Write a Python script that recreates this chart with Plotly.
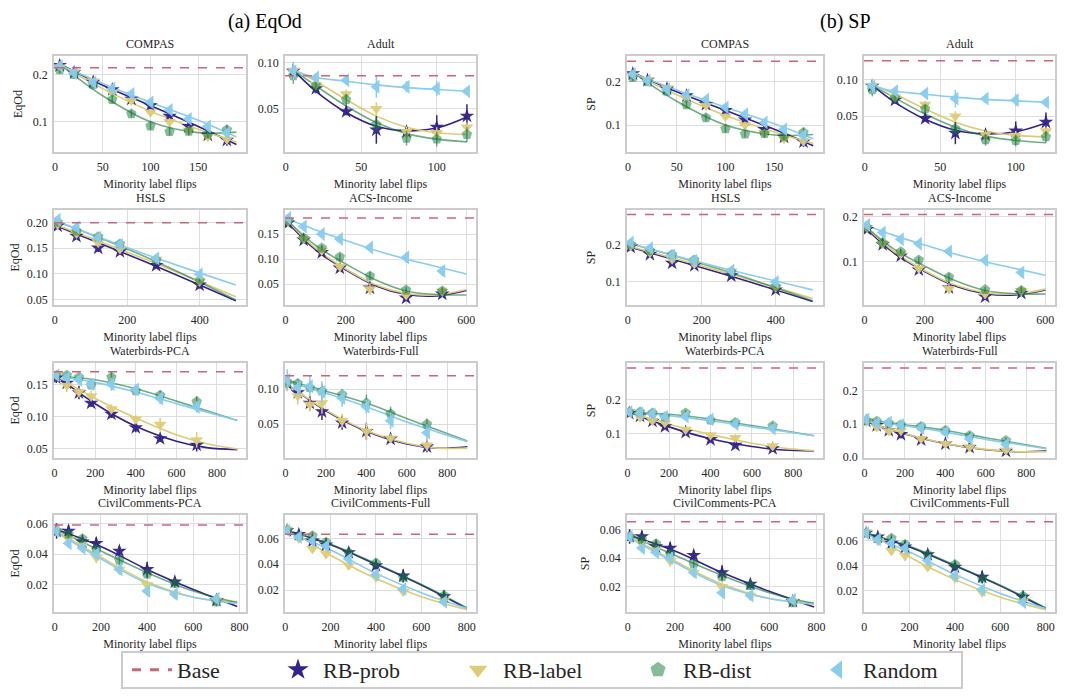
import plotly.graph_objects as go
from plotly.subplots import make_subplots

# ---------------- data ----------------
datasets = ["COMPAS", "Adult", "HSLS", "ACS-Income", "Waterbirds-PCA",
            "Waterbirds-Full", "CivilComments-PCA", "CivilComments-Full"]
methods = ["RB-prob", "RB-label", "RB-dist", "Random"]

# COMPAS
compas_x = [5, 20, 40, 60, 80, 100, 120, 140, 160, 180]
compas_prob = [0.219, 0.204, 0.184, 0.168, 0.148, 0.134, 0.112, 0.090, 0.072, 0.061]
compas_label = [0.215, 0.205, 0.186, 0.162, 0.145, 0.120, 0.100, 0.082, 0.068, 0.063]
compas_dist = [0.210, 0.200, 0.178, 0.147, 0.117, 0.091, 0.079, 0.080, 0.074, 0.083]
compas_rand = [0.218, 0.203, 0.183, 0.170, 0.159, 0.141, 0.125, 0.106, 0.090, 0.076]
compas_prob_err = [0.006, 0.005, 0.006, 0.006, 0.006, 0.007, 0.007, 0.008, 0.008, 0.012]
compas_label_err = [0.006, 0.005, 0.006, 0.006, 0.007, 0.007, 0.008, 0.009, 0.010, 0.010]
compas_dist_err = [0.008, 0.006, 0.007, 0.008, 0.008, 0.008, 0.008, 0.009, 0.009, 0.010]
compas_rand_err = [0.008, 0.006, 0.006, 0.007, 0.007, 0.007, 0.007, 0.008, 0.009, 0.009]
compas_fit_x = [5, 50, 100, 150, 190]
compas_fit_prob = [0.222, 0.177, 0.134, 0.090, 0.052]
compas_fit_label = [0.220, 0.170, 0.122, 0.084, 0.057]
compas_fit_dist = [0.222, 0.155, 0.100, 0.077, 0.078]
compas_fit_rand = [0.220, 0.181, 0.141, 0.103, 0.068]

# Adult
adult_x = [5, 20, 40, 60, 80, 100, 120]
adult_prob = [0.091, 0.072, 0.047, 0.027, 0.025, 0.030, 0.042]
adult_label = [0.092, 0.076, 0.066, 0.050, 0.025, 0.024, 0.030]
adult_dist = [0.086, 0.075, 0.060, 0.033, 0.018, 0.017, 0.022]
adult_rand = [0.091, 0.084, 0.081, 0.074, 0.074, 0.072, 0.069]
adult_prob_err = [0.008, 0.005, 0.004, 0.015, 0.006, 0.013, 0.013]
adult_label_err = [0.006, 0.005, 0.005, 0.007, 0.006, 0.006, 0.005]
adult_dist_err = [0.009, 0.006, 0.006, 0.008, 0.008, 0.008, 0.008]
adult_rand_err = [0.010, 0.005, 0.005, 0.012, 0.006, 0.008, 0.004]
adult_fit_x = [5, 20, 40, 60, 80, 100, 120]
adult_fit_prob = [0.092, 0.069, 0.046, 0.031, 0.026, 0.029, 0.041]
adult_fit_label = [0.093, 0.080, 0.060, 0.042, 0.030, 0.024, 0.022]
adult_fit_dist = [0.092, 0.075, 0.053, 0.035, 0.023, 0.017, 0.014]
adult_fit_rand = [0.092, 0.084, 0.080, 0.076, 0.073, 0.071, 0.069]

# HSLS
hsls_x = [8, 60, 120, 180, 280, 400]
hsls_prob = [0.193, 0.173, 0.150, 0.143, 0.116, 0.078]
hsls_label = [0.196, 0.178, 0.160, 0.148, 0.128, 0.085]
hsls_dist = [0.200, 0.183, 0.172, 0.158, 0.126, 0.087]
hsls_rand = [0.205, 0.190, 0.170, 0.156, 0.130, 0.099]
hsls_prob_err = [0.004, 0.006, 0.008, 0.006, 0.005, 0.007]
hsls_label_err = [0.004, 0.005, 0.006, 0.006, 0.005, 0.005]
hsls_dist_err = [0.004, 0.004, 0.004, 0.004, 0.006, 0.004]
hsls_rand_err = [0.005, 0.005, 0.005, 0.004, 0.004, 0.005]
hsls_fit_x = [5, 250, 500]
hsls_fit_prob = [0.193, 0.123, 0.047]
hsls_fit_label = [0.195, 0.128, 0.055]
hsls_fit_dist = [0.202, 0.133, 0.049]
hsls_fit_rand = [0.202, 0.138, 0.078]

# ACS-Income
acs_x = [8, 60, 120, 180, 280, 400, 520]
acs_prob = [0.172, 0.138, 0.113, 0.082, 0.042, 0.022, 0.030]
acs_label = [0.175, 0.140, 0.117, 0.085, 0.040, 0.028, 0.035]
acs_dist = [0.176, 0.142, 0.122, 0.104, 0.066, 0.038, 0.036]
acs_rand = [0.182, 0.165, 0.150, 0.140, 0.123, 0.103, 0.076]
acs_prob_err = [0.004, 0.006, 0.006, 0.006, 0.008, 0.006, 0.006]
acs_label_err = [0.005, 0.007, 0.007, 0.010, 0.012, 0.008, 0.008]
acs_dist_err = [0.004, 0.006, 0.005, 0.007, 0.008, 0.006, 0.006]
acs_rand_err = [0.004, 0.004, 0.004, 0.008, 0.006, 0.010, 0.010]
acs_fit_x = [8, 100, 200, 300, 400, 500, 600]
acs_fit_prob = [0.172, 0.118, 0.078, 0.046, 0.029, 0.026, 0.037]
acs_fit_label = [0.175, 0.121, 0.080, 0.048, 0.031, 0.028, 0.039]
acs_fit_dist = [0.176, 0.127, 0.090, 0.058, 0.036, 0.029, 0.028]
acs_fit_rand = [0.180, 0.158, 0.137, 0.117, 0.100, 0.085, 0.070]

# Waterbirds-PCA
wbp_x = [8, 60, 120, 180, 280, 400, 520, 700]
wbp_prob = [0.160, 0.152, 0.137, 0.121, 0.104, 0.083, 0.066, 0.056]
wbp_label = [0.165, 0.148, 0.138, 0.132, 0.112, 0.096, 0.088, 0.064]
wbp_dist = [0.163, 0.164, 0.161, 0.149, 0.161, 0.140, 0.133, 0.123]
wbp_rand = [0.164, 0.160, 0.157, 0.150, 0.150, 0.142, 0.128, 0.115]
wbp_prob_err = [0.008, 0.008, 0.010, 0.006, 0.006, 0.007, 0.005, 0.010]
wbp_label_err = [0.006, 0.010, 0.007, 0.008, 0.007, 0.006, 0.010, 0.012]
wbp_dist_err = [0.004, 0.004, 0.004, 0.006, 0.008, 0.006, 0.007, 0.009]
wbp_rand_err = [0.007, 0.005, 0.006, 0.007, 0.010, 0.008, 0.009, 0.009]
wbp_fit_x = [8, 200, 400, 600, 750, 900]
wbp_fit_prob = [0.163, 0.120, 0.085, 0.062, 0.052, 0.049]
wbp_fit_label = [0.163, 0.128, 0.098, 0.072, 0.058, 0.050]
wbp_fit_dist = [0.163, 0.157, 0.143, 0.124, 0.109, 0.094]
wbp_fit_rand = [0.163, 0.153, 0.138, 0.120, 0.107, 0.094]

# Waterbirds-Full
wbf_x = [8, 60, 120, 180, 280, 400, 520, 700]
wbf_prob = [0.108, 0.095, 0.080, 0.068, 0.052, 0.040, 0.029, 0.018]
wbf_label = [0.107, 0.090, 0.078, 0.080, 0.055, 0.040, 0.030, 0.020]
wbf_dist = [0.110, 0.108, 0.102, 0.097, 0.092, 0.080, 0.065, 0.050]
wbf_rand = [0.113, 0.102, 0.104, 0.096, 0.087, 0.075, 0.055, 0.038]
wbf_prob_err = [0.008, 0.008, 0.010, 0.012, 0.010, 0.012, 0.005, 0.008]
wbf_label_err = [0.010, 0.012, 0.010, 0.015, 0.010, 0.012, 0.006, 0.008]
wbf_dist_err = [0.010, 0.006, 0.008, 0.010, 0.008, 0.012, 0.010, 0.008]
wbf_rand_err = [0.015, 0.010, 0.015, 0.015, 0.012, 0.010, 0.012, 0.012]
wbf_fit_x = [8, 200, 400, 600, 750, 900]
wbf_fit_prob = [0.107, 0.069, 0.040, 0.022, 0.016, 0.018]
wbf_fit_label = [0.107, 0.070, 0.041, 0.023, 0.016, 0.016]
wbf_fit_dist = [0.112, 0.097, 0.080, 0.058, 0.042, 0.026]
wbf_fit_rand = [0.110, 0.094, 0.075, 0.053, 0.039, 0.025]

# CivilComments-PCA
ccp_x = [8, 60, 120, 180, 280, 400, 520, 700]
ccp_prob = [0.055, 0.055, 0.048, 0.047, 0.042, 0.030, 0.022, 0.010]
ccp_label = [0.055, 0.050, 0.046, 0.038, 0.030, 0.020, 0.014, 0.010]
ccp_dist = [0.055, 0.053, 0.050, 0.043, 0.036, 0.027, 0.021, 0.009]
ccp_rand = [0.055, 0.047, 0.044, 0.040, 0.030, 0.016, 0.014, 0.011]
ccp_prob_err = [0.005, 0.004, 0.003, 0.004, 0.003, 0.005, 0.003, 0.003]
ccp_label_err = [0.003, 0.003, 0.003, 0.004, 0.003, 0.003, 0.003, 0.003]
ccp_dist_err = [0.003, 0.003, 0.003, 0.003, 0.003, 0.003, 0.003, 0.003]
ccp_rand_err = [0.003, 0.003, 0.003, 0.003, 0.003, 0.003, 0.003, 0.003]
ccp_fit_x = [8, 200, 400, 600, 790]
ccp_fit_prob = [0.056, 0.045, 0.030, 0.017, 0.006]
ccp_fit_label = [0.055, 0.038, 0.022, 0.012, 0.009]
ccp_fit_dist = [0.056, 0.042, 0.028, 0.016, 0.0085]
ccp_fit_rand = [0.054, 0.037, 0.021, 0.012, 0.008]

# CivilComments-Full
ccf_x = [8, 60, 120, 180, 280, 400, 520, 700]
ccf_prob = [0.066, 0.063, 0.058, 0.055, 0.049, 0.039, 0.031, 0.015]
ccf_label = [0.067, 0.060, 0.052, 0.048, 0.039, 0.030, 0.019, 0.012]
ccf_dist = [0.066, 0.062, 0.062, 0.057, 0.049, 0.041, 0.030, 0.016]
ccf_rand = [0.066, 0.061, 0.058, 0.054, 0.044, 0.032, 0.021, 0.011]
ccf_prob_err = [0.003, 0.003, 0.003, 0.003, 0.004, 0.003, 0.005, 0.003]
ccf_label_err = [0.004, 0.003, 0.003, 0.004, 0.003, 0.003, 0.003, 0.003]
ccf_dist_err = [0.003, 0.003, 0.003, 0.003, 0.003, 0.003, 0.003, 0.004]
ccf_rand_err = [0.003, 0.003, 0.003, 0.003, 0.003, 0.003, 0.003, 0.003]
ccf_fit_x = [8, 200, 400, 600, 800]
ccf_fit_prob = [0.066, 0.055, 0.040, 0.024, 0.006]
ccf_fit_label = [0.068, 0.047, 0.029, 0.015, 0.005]
ccf_fit_dist = [0.066, 0.0555, 0.0405, 0.0245, 0.0065]
ccf_fit_rand = [0.065, 0.051, 0.033, 0.018, 0.006]

# Base (dashed) values
base_eqod = [0.214, 0.086, 0.199, 0.182, 0.1696, 0.119, 0.0589, 0.0631]
base_sp = [0.248, 0.1257, 0.280, 0.205, 0.293, 0.268, 0.0653, 0.0752]

# Tick values
x_ticks = [[0, 50, 100, 150], [0, 50, 100], [0, 200, 400], [0, 200, 400, 600],
           [0, 200, 400, 600, 800], [0, 200, 400, 600, 800],
           [0, 200, 400, 600, 800], [0, 200, 400, 600, 800]]
y_ticks_eqod = [[0.1, 0.2], [0.05, 0.10], [0.05, 0.10, 0.15, 0.20], [0.05, 0.10, 0.15],
                [0.05, 0.10, 0.15], [0.05, 0.10], [0.02, 0.04, 0.06], [0.02, 0.04, 0.06]]
y_ticks_sp = [[0.1, 0.2], [0.05, 0.10], [0.1, 0.2], [0.1, 0.2],
              [0.1, 0.2], [0.0, 0.1, 0.2], [0.02, 0.04, 0.06], [0.02, 0.04, 0.06]]

# ---------------- styles / layout ----------------
WIN_W, WIN_H = 1065, 698
OX, OY = 8, 8  # page body margin
W, H = WIN_W - 2 * OX, WIN_H - 2 * OY  # figure fits the window without scrolling
SERIF = "Liberation Serif, Times New Roman, DejaVu Serif, serif"
TXT = "#262626"
BASE_C = "#CC6677"
styles = {
    "RB-prob": dict(symbol="star", mcolor="rgba(51,34,136,0.95)", lcolor="#332288", size=11),
    "RB-label": dict(symbol="triangle-down", mcolor="rgba(221,204,119,0.95)", lcolor="#DDCC77", size=11),
    "RB-dist": dict(symbol="pentagon", mcolor="rgba(17,119,51,0.5)", lcolor="rgba(17,119,51,0.6)", size=11),
    "Random": dict(symbol="triangle-left", mcolor="rgba(136,204,238,0.95)", lcolor="#88CCEE", size=12),
}
legend_colors = {"RB-prob": "#332288", "RB-label": "#DDCC77", "RB-dist": "#88BB99", "Random": "#88CCEE"}

pref = ["compas", "adult", "hsls", "acs", "wbp", "wbf", "ccp", "ccf"]
suffix = {"RB-prob": "prob", "RB-label": "label", "RB-dist": "dist", "Random": "rand"}
G = globals()

x_ranges = [[-1, 200], [-0.5, 126], [-2, 528], [-2, 632], [-3, 943], [-3, 943], [-3, 828], [-1, 841]]
y_ranges_eqod = [[0.036, 0.239], [0.003, 0.1074], [0.039, 0.224], [0.008, 0.198],
                 [0.036, 0.183], [0.002, 0.137], [0.0024, 0.0654], [0.0032, 0.078]]
y_ranges_sp = [[0.0375, 0.260], [0.0014, 0.132], [0.0375, 0.292], [0.0037, 0.215],
               [0.0284, 0.308], [-0.003, 0.283], [0.0026, 0.070], [0.0032, 0.0805]]

# panel frames in window pixels
col_px = [(54, 246), (285, 476), (627, 823), (864, 1055)]
row_px = [(56, 152), (210, 305), (363, 458), (515, 612)]


def px_x(v):
    return (v - OX) / W


def px_y(v):
    return 1 - (v - OY) / H


fig = make_subplots(rows=4, cols=4, horizontal_spacing=0.02, vertical_spacing=0.05)

annotations = []
for g, (metric, bases, yticks_all, yranges) in enumerate(
        [("EqOd", base_eqod, y_ticks_eqod, y_ranges_eqod),
         ("SP", base_sp, y_ticks_sp, y_ranges_sp)]):
    for i, ds in enumerate(datasets):
        r = i // 2 + 1
        c = i % 2 + 1 + 2 * g
        p = pref[i]
        xs = G[p + "_x"]
        fx = G[p + "_fit_x"]
        for m in methods:
            st = styles[m]
            s = suffix[m]
            fig.add_trace(go.Scatter(
                x=fx, y=G[f"{p}_fit_{s}"], mode="lines",
                line=dict(color=st["lcolor"], width=1.6, shape="spline", smoothing=1.0),
                showlegend=False, hoverinfo="skip"), row=r, col=c)
        for m in methods:
            st = styles[m]
            s = suffix[m]
            fig.add_trace(go.Scatter(
                x=xs, y=G[f"{p}_{s}"], mode="markers",
                marker=dict(symbol=st["symbol"], size=st["size"], color=st["mcolor"], line=dict(width=0)),
                error_y=dict(type="data", array=G[f"{p}_{s}_err"], visible=True,
                             color=st["lcolor"], thickness=1.5, width=0),
                showlegend=False), row=r, col=c)
        fig.add_hline(y=bases[i], line=dict(color=BASE_C, width=1.5, dash="dash"), row=r, col=c)

        x0, x1 = col_px[c - 1]
        y0, y1 = row_px[r - 1]
        fig.update_xaxes(domain=[px_x(x0), px_x(x1)], range=x_ranges[i], tickvals=x_ticks[i],
                         ticklabelstandoff=3,
                         title=dict(text="Minority label flips", standoff=6,
                                    font=dict(family=SERIF, size=12, color=TXT)),
                         row=r, col=c)
        fmt = ".1f" if yticks_all[i] in ([0.1, 0.2], [0.0, 0.1, 0.2]) else ".2f"
        ytitle = dict(text=metric, standoff=8, font=dict(family=SERIF, size=12, color=TXT)) if c in (1, 3) else None
        fig.update_yaxes(domain=[px_y(y1), px_y(y0)], range=yranges[i], tickvals=yticks_all[i],
                         tickformat=fmt, title=ytitle, ticklabelstandoff=2, row=r, col=c)
        annotations.append(dict(text=ds, x=px_x((x0 + x1) / 2), y=px_y(y0), xref="paper", yref="paper",
                                xanchor="center", yanchor="bottom", yshift=3, showarrow=False,
                                font=dict(family=SERIF, size=12, color=TXT)))

annotations.append(dict(text="(a) EqOd", x=px_x(265), y=1.0, xref="paper", yref="paper",
                        xanchor="center", yanchor="top", showarrow=False,
                        font=dict(family=SERIF, size=20, color="black")))
annotations.append(dict(text="(b) SP", x=px_x(845), y=1.0, xref="paper", yref="paper",
                        xanchor="center", yanchor="top", showarrow=False,
                        font=dict(family=SERIF, size=20, color="black")))

axis_common = dict(showgrid=True, gridcolor="#dddddd", gridwidth=1, zeroline=False, automargin=False,
                   showline=True, mirror=True, linecolor="#cccccc", linewidth=1.5, ticks="",
                   tickfont=dict(family=SERIF, size=12, color=TXT))
fig.update_xaxes(**axis_common)
fig.update_yaxes(**axis_common)

# legend box
fig.add_shape(type="rect", xref="paper", yref="paper",
              x0=px_x(122), x1=px_x(962), y0=px_y(688), y1=px_y(652),
              line=dict(color="#cccccc", width=2, dash="solid"), fillcolor="rgba(0,0,0,0)")

# legend entries
fig.add_trace(go.Scatter(x=[None], y=[None], mode="lines", name="Base", legend="legend",
                         line=dict(color=BASE_C, width=3, dash="dash")))
for m in methods:
    st = styles[m]
    fig.add_trace(go.Scatter(x=[None], y=[None], mode="markers", name=m, legend="legend2",
                             marker=dict(symbol=st["symbol"], size=22, color=legend_colors[m])))

leg_font = dict(family=SERIF, size=22, color=TXT)
fig.update_layout(
    width=W, height=H, margin=dict(l=0, r=0, t=0, b=0, autoexpand=False),
    plot_bgcolor="white", paper_bgcolor="white",
    annotations=annotations,
    legend=dict(orientation="h", x=px_x(127), xanchor="left", y=px_y(670), yanchor="middle",
                borderwidth=0, bgcolor="rgba(0,0,0,0)", font=leg_font, itemwidth=40),
    legend2=dict(orientation="h", x=px_x(273), xanchor="left", y=px_y(670), yanchor="middle",
                 borderwidth=0, bgcolor="rgba(0,0,0,0)", font=leg_font, itemwidth=40,
                 entrywidth=125, entrywidthmode="pixels"),
)

fig.write_html("out.html")
